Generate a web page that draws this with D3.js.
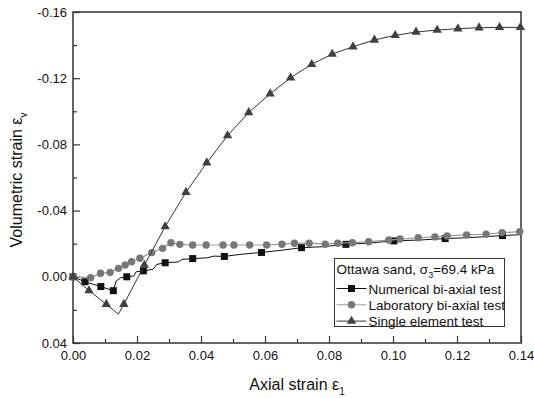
<!DOCTYPE html>
<html>
<head>
<meta charset="utf-8">
<script src="https://cdn.jsdelivr.net/npm/d3@7"></script>
<style>
  body { margin: 0; background: #fff; }
  text { font-family: Arial, "Liberation Sans", sans-serif; fill: #111; }
</style>
</head>
<body>
<div id="chart"></div>
<script>
// [axial strain, volumetric strain]
const numMarkers = [
  [0, 0], [0.00375, 0.003], [0.0087, 0.0059], [0.0126, 0.0084], [0.0168, 0.0],
  [0.022, -0.0036], [0.0288, -0.0085], [0.0374, -0.011], [0.0473, -0.0123],
  [0.0589, -0.0147], [0.0714, -0.0176], [0.0853, -0.0196], [0.1003, -0.0217],
  [0.1163, -0.0231], [0.1342, -0.0249]]
// the numerical curve wobbles between its markers
const numLine = [
  [0, 0], [0.00375, 0.003], [0.0087, 0.0059], [0.0126, 0.0084], [0.0135, 0.0025],
  [0.015, 0.0005], [0.0168, 0.0], [0.019, -0.0005], [0.0197, -0.003], [0.022, -0.0036],
  [0.025, -0.0045], [0.0262, -0.0075], [0.0288, -0.0085], [0.033, -0.009],
  [0.034, -0.0105], [0.0374, -0.011], [0.042, -0.0115], [0.044, -0.0125],
  [0.0473, -0.0123], [0.052, -0.0135], [0.0589, -0.0147], [0.065, -0.016],
  [0.0714, -0.0176], [0.078, -0.0182], [0.0853, -0.0196], [0.092, -0.0203],
  [0.1003, -0.0217], [0.108, -0.0222], [0.1163, -0.0231], [0.125, -0.0238],
  [0.1342, -0.0249], [0.14, -0.0255]]
const labData = [
  [0, 0], [0.0055, 0.0005], [0.0086, -0.0021], [0.0116, -0.0027], [0.0142, -0.0051],
  [0.0163, -0.0071], [0.0183, -0.0091], [0.0209, -0.0112], [0.0246, -0.0146],
  [0.028, -0.0172], [0.0306, -0.0206], [0.0334, -0.0196], [0.0374, -0.0192],
  [0.0416, -0.0192], [0.0469, -0.0192], [0.0503, -0.0192], [0.0552, -0.0192],
  [0.0605, -0.0192], [0.0653, -0.0197], [0.0692, -0.0203], [0.0738, -0.0203],
  [0.0788, -0.0197], [0.0827, -0.0203], [0.0873, -0.0206], [0.0924, -0.0212],
  [0.0987, -0.0222], [0.1022, -0.0228], [0.1079, -0.0236], [0.1131, -0.0241],
  [0.1169, -0.0247], [0.123, -0.0253], [0.1291, -0.0257], [0.1341, -0.0267],
  [0.1396, -0.0273]]
const triMarkers = [
  [0, 0], [0.005, 0.0083], [0.0104, 0.0166], [0.0159, 0.0166], [0.0223, -0.0071],
  [0.0288, -0.0303], [0.0353, -0.0511], [0.0418, -0.0689], [0.0483, -0.0853],
  [0.0549, -0.0993], [0.0616, -0.1106], [0.068, -0.1203], [0.0746, -0.1284],
  [0.081, -0.1346], [0.0875, -0.139], [0.0942, -0.1431], [0.1007, -0.1459],
  [0.1072, -0.1479], [0.1138, -0.1491], [0.1203, -0.1499], [0.1269, -0.1505],
  [0.1333, -0.1507], [0.1398, -0.1507]]
const triVertex = [0.0142, 0.0225]

const xTicks = [0, 0.02, 0.04, 0.06, 0.08, 0.10, 0.12, 0.14]
const xMinor = [0.01, 0.03, 0.05, 0.07, 0.09, 0.11, 0.13]
const yTicks = [-0.16, -0.12, -0.08, -0.04, 0, 0.04]
const yMinor = [-0.14, -0.10, -0.06, -0.02, 0.02]

const legendTitle = ["Ottawa sand, σ", "3", "=69.4 kPa"]
const seriesNames = ["Numerical bi-axial test", "Laboratory bi-axial test", "Single element test"]

let margin = {top: 12, right: 13, bottom: 55, left: 73},
    width = 534 - margin.left - margin.right,
    height = 398 - margin.top - margin.bottom

let svg = d3.select("#chart")
            .append("svg")
            .attr("width", 534)
            .attr("height", 398)
let g = svg.append("g")
           .attr("transform", "translate(" + margin.left + "," + margin.top + ")")

let x = d3.scaleLinear().domain([0, 0.14]).range([0, width])
let y = d3.scaleLinear().domain([0.04, -0.16]).range([height, 0])

// axes, ticks pointing inward
g.append("g")
 .attr("transform", "translate(0," + height + ")")
 .call(d3.axisBottom(x).tickValues(xMinor).tickSize(-4).tickSizeOuter(0).tickFormat(""))
g.append("g")
 .attr("transform", "translate(0," + height + ")")
 .call(d3.axisBottom(x).tickValues(xTicks).tickSize(-7).tickSizeOuter(0).tickPadding(8)
         .tickFormat(function(d) { return d.toFixed(2) }))
g.append("g")
 .call(d3.axisLeft(y).tickValues(yMinor).tickSize(-4).tickSizeOuter(0).tickFormat(""))
g.append("g")
 .call(d3.axisLeft(y).tickValues(yTicks).tickSize(-7).tickSizeOuter(0).tickPadding(6)
         .tickFormat(function(d) { return d.toFixed(2) }))

g.selectAll(".tick text").attr("font-size", 13).attr("font-family", "Arial, 'Liberation Sans', sans-serif").attr("fill", "#111")
g.selectAll(".tick line").attr("stroke", "#333").attr("stroke-width", 1.2)
g.selectAll(".domain").remove()

g.append("rect")
 .attr("width", width).attr("height", height)
 .attr("fill", "none").attr("stroke", "#333").attr("stroke-width", 1.5)

let line = d3.line().x(function(d) { return x(d[0]) }).y(function(d) { return y(d[1]) })

let clip = g.append("g")

// numerical bi-axial test
clip.append("path").datum(numLine)
    .attr("fill", "none").attr("stroke", "#111").attr("stroke-width", 1).attr("d", line)
clip.selectAll(".sq").data(numMarkers).enter().append("rect")
    .attr("x", function(d) { return x(d[0]) - 3.5 })
    .attr("y", function(d) { return y(d[1]) - 3.5 })
    .attr("width", 7).attr("height", 7).attr("fill", "#111")

// laboratory bi-axial test
clip.append("path").datum(labData)
    .attr("fill", "none").attr("stroke", "#999").attr("stroke-width", 1.2).attr("d", line)
clip.selectAll(".ci").data(labData).enter().append("circle")
    .attr("cx", function(d) { return x(d[0]) })
    .attr("cy", function(d) { return y(d[1]) })
    .attr("r", 3.7).attr("fill", "#777")

// single element test: the line runs through a sharp minimum between markers
let triLine = triMarkers.slice(0, 3).concat([triVertex], triMarkers.slice(3))
let tri = d3.symbol().type(d3.symbolTriangle).size(38)
clip.append("path").datum(triLine)
    .attr("fill", "none").attr("stroke", "#333").attr("stroke-width", 1).attr("d", line)
clip.selectAll(".tr").data(triMarkers).enter().append("path")
    .attr("transform", function(d) { return "translate(" + x(d[0]) + "," + y(d[1]) + ")" })
    .attr("d", tri).attr("fill", "#404040")

// legend
let lg = svg.append("g").attr("transform", "translate(334.5,258.5)")
lg.append("rect").attr("width", 170).attr("height", 68)
  .attr("fill", "#fff").attr("stroke", "#333").attr("stroke-width", 1)
let lt = lg.append("text").attr("x", 2).attr("y", 15).attr("font-size", 13.5)
lt.append("tspan").text(legendTitle[0])
lt.append("tspan").attr("font-size", 9).attr("dy", 4).text(legendTitle[1])
lt.append("tspan").attr("dy", -4).text(legendTitle[2])

let rows = lg.selectAll(".row").data(seriesNames).enter().append("g")
             .attr("transform", function(d, i) { return "translate(0," + (30 + i * 16.3) + ")" })
rows.append("line").attr("x1", 2).attr("x2", 32)
    .attr("stroke", function(d, i) { return ["#111", "#999", "#333"][i] }).attr("stroke-width", 1)
rows.append("text").attr("x", 34).attr("y", 5).attr("font-size", 13.5).text(function(d) { return d })
rows.filter(function(d, i) { return i == 0 }).append("rect")
    .attr("x", 13.5).attr("y", -3.5).attr("width", 7).attr("height", 7).attr("fill", "#111")
rows.filter(function(d, i) { return i == 1 }).append("circle")
    .attr("cx", 17).attr("r", 3.7).attr("fill", "#777")
rows.filter(function(d, i) { return i == 2 }).append("path")
    .attr("transform", "translate(17,0)").attr("d", tri).attr("fill", "#404040")

// axis titles
let xt = svg.append("text").attr("x", 297).attr("y", 390).attr("text-anchor", "middle").attr("font-size", 16)
xt.append("tspan").text("Axial strain ε")
xt.append("tspan").attr("font-size", 10).attr("dy", 5).text("1")

let yt = svg.append("text").attr("transform", "translate(22,180) rotate(-90)")
            .attr("text-anchor", "middle").attr("font-size", 16)
yt.append("tspan").text("Volumetric strain ε")
yt.append("tspan").attr("font-size", 10).attr("dy", 5).text("v")
</script>
</body>
</html>
